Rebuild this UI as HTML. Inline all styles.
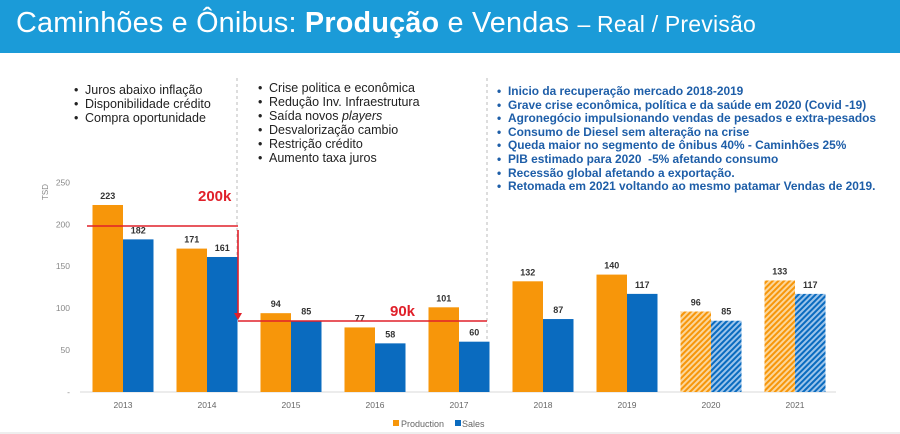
<!DOCTYPE html>
<html><head><meta charset="utf-8">
<style>
body{margin:0;width:900px;height:434px;overflow:hidden;background:#fff;font-family:"Liberation Sans",sans-serif;position:relative}
#hdr{position:absolute;left:0;top:0;width:900px;height:53px;background:#1b9bd8}
#title{position:absolute;left:16px;top:7px;color:#fff;font-size:28.8px;white-space:nowrap;letter-spacing:0.2px}
#title .sm{font-size:23px}
ul{margin:0;padding:0;list-style:none;position:absolute}
li{position:relative;padding-left:11px;white-space:nowrap}
li:before{content:"•";position:absolute;left:0}
.c1,.c2{font-size:12.5px;color:#222;line-height:14px}
.c3{font-size:11.9px;color:#1e5ea8;font-weight:bold;line-height:13.6px}
</style></head><body>
<div id="hdr"></div>
<div id="title">Caminhões e Ônibus: <b>Produção</b> e Vendas <span class="sm">– Real / Previsão</span></div>
<ul class="c1" style="left:74px;top:83px">
<li>Juros abaixo inflação</li><li>Disponibilidade crédito</li><li>Compra oportunidade</li></ul>
<ul class="c2" style="left:258px;top:81px">
<li>Crise politica e econômica</li><li>Redução Inv. Infraestrutura</li><li>Saída novos <i>players</i></li><li>Desvalorização cambio</li><li>Restrição crédito</li><li>Aumento taxa juros</li></ul>
<ul class="c3" style="left:497px;top:85px">
<li>Inicio da recuperação mercado 2018-2019</li>
<li>Grave crise econômica, política e da saúde em 2020 (Covid -19)</li>
<li>Agronegócio impulsionando vendas de pesados e extra-pesados</li>
<li>Consumo de Diesel sem alteração na crise</li>
<li>Queda maior no segmento de ônibus 40% - Caminhões 25%</li>
<li>PIB estimado para 2020 &nbsp;-5% afetando consumo</li>
<li>Recessão global afetando a exportação.</li>
<li>Retomada em 2021 voltando ao mesmo patamar Vendas de 2019.</li></ul>
<svg id="chart" width="900" height="434" style="position:absolute;left:0;top:0">
<defs>
<pattern id="hatchO" width="4" height="4" patternUnits="userSpaceOnUse" patternTransform="rotate(45)"><rect width="4" height="4" fill="#fbd69a"/><rect width="2" height="4" fill="#f7960a"/></pattern>
<pattern id="hatchB" width="4" height="4" patternUnits="userSpaceOnUse" patternTransform="rotate(45)"><rect width="4" height="4" fill="#9cc4ea"/><rect width="2" height="4" fill="#0a6bbf"/></pattern>
</defs>
<g id="g"></g>
</svg>
<script>
const categories=["2013","2014","2015","2016","2017","2018","2019","2020","2021"];
const production=[223,171,94,77,101,132,140,96,133];
const sales=[182,161,85,58,60,87,117,85,117];
const forecast=[false,false,false,false,false,false,false,true,true];
const yTicks=[0,50,100,150,200,250];
const NS="http://www.w3.org/2000/svg";
const g=document.getElementById('g');
const base=392,scale=0.8386,x0=123,step=84,bw=30.5;
const y=v=>base-v*scale;
const xc=i=>x0+i*step;
function mk(t,a,txt){const e=document.createElementNS(NS,t);for(const k in a)e.setAttribute(k,a[k]);if(txt!=null)e.textContent=txt;g.appendChild(e);return e;}
let ax=mk('line',{x1:80,y1:base,x2:836,y2:base,stroke:'#d9d9d9','stroke-width':1});


yTicks.forEach(v=>{const t=mk('text',{x:70,y:y(v)+3,'text-anchor':'end','font-size':8.5,fill:'#888'},v===0?'-':v);

});
let yt=mk('text',{x:48,y:192,'font-size':8,fill:'#888','text-anchor':'middle',transform:'rotate(-90 48 192)'},'TSD');


[237,487].forEach(x=>{const l=mk('line',{x1:x,y1:78,x2:x,y2:base,stroke:'#bbb','stroke-dasharray':'3,3'});

});
categories.forEach((c,i)=>{
 const cx=xc(i);
 const p=mk('rect',{x:cx-bw,y:y(production[i]),width:bw,height:production[i]*scale,fill:forecast[i]?'url(#hatchO)':'#f7960a'});
 
 
 const s=mk('rect',{x:cx,y:y(sales[i]),width:bw,height:sales[i]*scale,fill:forecast[i]?'url(#hatchB)':'#0a6bbf'});
 
 
 const lp=mk('text',{x:cx-bw/2,y:y(production[i])-6,'text-anchor':'middle','font-size':9,'font-weight':'bold',fill:'#333'},production[i]);
 
 
 const ls=mk('text',{x:cx+bw/2,y:y(sales[i])-6,'text-anchor':'middle','font-size':9,'font-weight':'bold',fill:'#333'},sales[i]);
 
 
 const xl=mk('text',{x:cx,y:408,'text-anchor':'middle','font-size':8.5,fill:'#666'},c);
 
 
});
const r1=mk('line',{x1:87,y1:226,x2:238,y2:226,stroke:'#e0202a','stroke-width':1.6});


const r2=mk('line',{x1:238,y1:230,x2:238,y2:316,stroke:'#e0202a','stroke-width':1.6});


const ah=mk('polygon',{points:'234,313 242,313 238,320',fill:'#e0202a'});


const r3=mk('line',{x1:238,y1:321,x2:487,y2:321,stroke:'#e0202a','stroke-width':1.6});


const t1=mk('text',{x:198,y:201,'font-size':15,'font-weight':'bold',fill:'#e0202a'},'200k');


const t2=mk('text',{x:390,y:316,'font-size':15,'font-weight':'bold',fill:'#e0202a'},'90k');


const lg1=mk('rect',{x:393,y:420,width:6,height:6,fill:'#f7960a'});


const lt1=mk('text',{x:401,y:427,'font-size':9,fill:'#666'},'Production');


const lg2=mk('rect',{x:455,y:420,width:6,height:6,fill:'#0a6bbf'});


const lt2=mk('text',{x:462,y:427,'font-size':9,fill:'#666'},'Sales');


const bs=mk('rect',{x:0,y:432,width:900,height:2,fill:'#eee'});


</script>
</body></html>
